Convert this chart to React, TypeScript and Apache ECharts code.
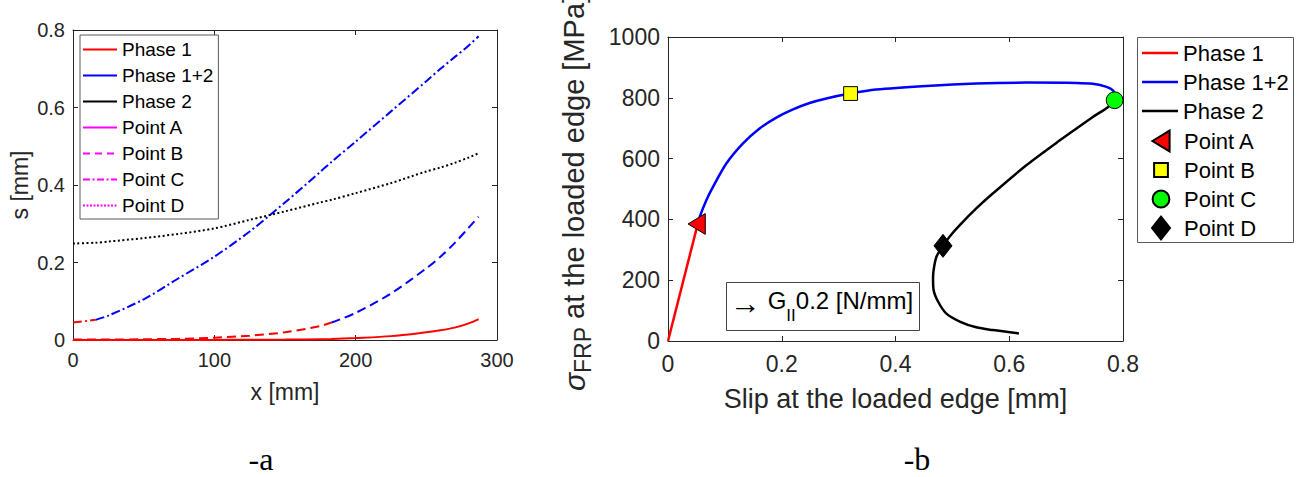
import React, { useEffect, useRef } from "react";
import * as echarts from "echarts";

// ---------- Left chart (a): slip along the bond length ----------
const xPos = [0, 16, 25, 50, 75, 100, 125, 150, 175, 183, 200, 225, 250, 260, 270, 280, 287];
const sPointA = [0, 0, 0, 0, 0, 0.0003, 0.0006, 0.001, 0.002, 0.0025, 0.005, 0.01, 0.02, 0.025, 0.032, 0.043, 0.054];
const sPointB = [0.001, 0.001, 0.001, 0.002, 0.003, 0.006, 0.011, 0.02, 0.036, 0.045, 0.07, 0.12, 0.185, 0.215, 0.25, 0.29, 0.318];
const sPointC = [0.045, 0.052, 0.063, 0.105, 0.16, 0.215, 0.28, 0.355, 0.434, 0.46, 0.512, 0.59, 0.668, 0.7, 0.73, 0.76, 0.784];
const sPointD = [0.249, 0.251, 0.254, 0.263, 0.274, 0.288, 0.31, 0.332, 0.355, 0.362, 0.379, 0.405, 0.435, 0.445, 0.457, 0.471, 0.482];
const splitB = 9; // index where Point B switches from Phase 1 to Phase 1+2
const splitC = 1; // index where Point C switches from Phase 1 to Phase 1+2

const leftLegend = ["Phase 1", "Phase 1+2", "Phase 2", "Point A", "Point B", "Point C", "Point D"];
const leftXTicks = { min: 0, max: 300, interval: 100 };
const leftYTicks = { min: 0, max: 0.8, interval: 0.2 };

// ---------- Right chart (b): stress vs slip at loaded edge ----------
const phase1Pts = [[0, 0], [0.052, 383]];
const phase12Pts = [
  [0.052, 383], [0.0557, 408], [0.0674, 463], [0.0791, 507], [0.1026, 584], [0.1319, 650],
  [0.161, 699], [0.1905, 735], [0.2198, 762], [0.249, 783], [0.2784, 798], [0.3206, 814],
  [0.366, 827], [0.454, 839], [0.542, 847], [0.63, 850], [0.718, 849], [0.747, 846],
  [0.771, 836], [0.783, 823], [0.7853, 800],
];
const phase2Pts = [
  [0.7853, 792], [0.774, 770], [0.747, 737], [0.689, 660], [0.63, 578], [0.571, 485],
  [0.542, 436], [0.513, 381], [0.495, 343], [0.4835, 313], [0.472, 277], [0.467, 233],
  [0.466, 206], [0.467, 168], [0.475, 129], [0.489, 91], [0.513, 64], [0.542, 45],
  [0.571, 36], [0.617, 25],
];
const pointA = [0.0504, 385];
const pointB = [0.321, 814];
const pointC = [0.7853, 792];
const pointD = [0.4835, 313];
const rightLineLegend = ["Phase 1", "Phase 1+2", "Phase 2"];
const rightPointLegend = ["Point A", "Point B", "Point C", "Point D"];
const rightXTicks = { min: 0, max: 0.8, interval: 0.2 };
const rightYTicks = { min: 0, max: 1000, interval: 200 };

const FONT = "'Liberation Sans', Arial, Helvetica, sans-serif";
const AX = "#262626";
const RED = "#ff0000";
const BLUE = "#0000ff";
const BLACK = "#000000";
const MAG = "#ff00ff";
const DASH = [9, 5];
const DASHDOT = [9, 3, 2, 3];
const DOT = [2, 2.5];

// marker paths padded into a 24x24 box so legend and plot share sizes
const TRI = "path://M0 0M24 24M3.4 12L20.6 1.6L20.6 22.4Z";
const SQR = "path://M0 0M24 24M5.1 5.1L18.9 5.1L18.9 18.9L5.1 18.9Z";
const CIR = "path://M0 0M24 24M3.6 12A8.4 8.4 0 1 1 20.4 12A8.4 8.4 0 1 1 3.6 12Z";
const DIA = "path://M0 0M24 24M12 0.5L21 12L12 23.5L3 12Z";

// legend line-sample icons built as thin filled bars (optionally dashed)
function barIcon(w: number, h: number, t: number, pattern: number[]) {
  const y0 = (h - t) / 2;
  const y1 = y0 + t;
  let d = `M0 0M${w} ${h}`;
  let x = 0;
  let i = 0;
  while (x < w - 0.01) {
    const len = pattern[i % pattern.length];
    if (i % 2 === 0) {
      const x1 = Math.min(w, x + len);
      d += `M${x} ${y0}L${x1} ${y0}L${x1} ${y1}L${x} ${y1}Z`;
    }
    x += len;
    i++;
  }
  return "path://" + d;
}

const pairs = (ys: number[]) => xPos.map((x, i) => [x, ys[i]]);

function axisPair(kind: "x" | "y", grid: number, t: any, fontSize: number, name: any, nameGap: number, nameStyle: any, margin: number) {
  const mainPos = kind === "x" ? "bottom" : "left";
  const sidePos = kind === "x" ? "top" : "right";
  const base = {
    type: "value",
    gridIndex: grid,
    min: t.min,
    max: t.max,
    interval: t.interval,
    splitLine: { show: false },
    axisLine: { show: true, onZero: false, lineStyle: { color: AX, width: 1 } },
    axisTick: { show: true, inside: true, length: 5, lineStyle: { color: AX } },
  };
  return [
    {
      ...base,
      position: mainPos,
      axisLabel: {
        show: true,
        fontSize,
        color: AX,
        fontFamily: FONT,
        margin,
        formatter: (v: number) => String(Math.round(v * 1000) / 1000),
      },
      name,
      nameLocation: "middle",
      nameGap,
      nameTextStyle: { color: AX, fontFamily: FONT, ...nameStyle },
    },
    { ...base, position: sidePos, axisLabel: { show: false } },
  ];
}

function leftLine(name: string, data: any, color: string, type: any) {
  return {
    name,
    type: "line",
    xAxisIndex: 0,
    yAxisIndex: 0,
    data,
    symbol: "none",
    showSymbol: false,
    smooth: 0.3,
    lineStyle: { color, width: 2, type },
    itemStyle: { color },
  };
}

function rightLine(name: string, data: any, color: string) {
  return {
    name,
    type: "line",
    xAxisIndex: 2,
    yAxisIndex: 2,
    data,
    symbol: "none",
    showSymbol: false,
    smooth: 0.3,
    lineStyle: { color, width: 2.5 },
    itemStyle: { color },
  };
}

function marker(name: string, pt: number[], symbol: string, fill: string) {
  return {
    name,
    type: "scatter",
    xAxisIndex: 2,
    yAxisIndex: 2,
    data: [pt],
    symbol,
    symbolSize: 24,
    itemStyle: { color: fill, borderColor: "#000", borderWidth: 1, opacity: 1 },
    z: 5,
  };
}

const leftDummyStyles: [string, any, number[]][] = [
  [RED, "solid", [34]],
  [BLUE, "solid", [34]],
  [BLACK, "solid", [34]],
  [MAG, "solid", [34]],
  [MAG, DASH, [7, 5]],
  [MAG, DASHDOT, [7, 2.5, 2, 2.5]],
  [MAG, DOT, [2, 1.5]],
];

function buildOption() {
  const xs = [
    ...axisPair("x", 0, leftXTicks, 20, "x [mm]", 40, { fontSize: 23 }, 10),
    ...axisPair("x", 1, rightXTicks, 23, "Slip at the loaded edge [mm]", 44, { fontSize: 27 }, 11),
  ];
  const ys = [
    ...axisPair("y", 0, leftYTicks, 20, "s [mm]", 42, { fontSize: 23 }, 8),
    ...axisPair("y", 1, rightYTicks, 23, "{s|σ}{f|FRP}{n| at the loaded edge [MPa]}", 62, {
      padding: [0, 8, 0, 0],
      rich: {
        s: { fontSize: 30, fontStyle: "italic", fontFamily: FONT, color: AX, lineHeight: 29, verticalAlign: "top" },
        f: { fontSize: 23, fontFamily: FONT, color: AX, lineHeight: 47, verticalAlign: "middle" },
        n: { fontSize: 29, fontFamily: FONT, color: AX, lineHeight: 29, verticalAlign: "top" },
      },
    }, 8),
  ];

  const series: any[] = [
    leftLine("", pairs(sPointA), RED, "solid"),
    leftLine("", pairs(sPointB).slice(0, splitB + 1), RED, DASH),
    leftLine("", pairs(sPointB).slice(splitB), BLUE, DASH),
    leftLine("", pairs(sPointC).slice(0, splitC + 1), RED, DASHDOT),
    leftLine("", pairs(sPointC).slice(splitC), BLUE, DASHDOT),
    leftLine("", pairs(sPointD), BLACK, DOT),
    ...leftLegend.map((n, i) => leftLine("a|" + n, [], leftDummyStyles[i][0], leftDummyStyles[i][1])),
    rightLine("b|" + rightLineLegend[0], phase1Pts, RED),
    rightLine("b|" + rightLineLegend[1], phase12Pts, BLUE),
    rightLine("b|" + rightLineLegend[2], phase2Pts, BLACK),
    marker("b|" + rightPointLegend[0], pointA, TRI, RED),
    marker("b|" + rightPointLegend[1], pointB, SQR, "#ffff00"),
    marker("b|" + rightPointLegend[2], pointC, CIR, "#00ff00"),
    marker("b|" + rightPointLegend[3], pointD, DIA, "#000000"),
  ];
  series.forEach((s, i) => {
    if (s.name === "") s.name = "hidden" + i;
  });

  const fmt = (n: string) => n.split("|")[1];
  const rightLineIcon = barIcon(36, 24, 2.5, [36]);
  const rightLineColors = [RED, BLUE, BLACK];
  const rightLegendBase = {
    orient: "vertical",
    selectedMode: false,
    itemWidth: 36,
    itemHeight: 24,
    padding: 0,
    textStyle: { fontSize: 22, color: "#000", fontFamily: FONT },
    formatter: fmt,
  };

  return {
    animation: false,
    backgroundColor: "#ffffff",
    textStyle: { fontFamily: FONT },
    tooltip: { show: false },
    grid: [
      { left: 73, top: 30, width: 424, height: 310, outerBoundsMode: "none" },
      { left: 668, top: 37, width: 455, height: 304, outerBoundsMode: "none" },
    ],
    xAxis: xs,
    yAxis: ys,
    legend: [
      {
        left: 80,
        top: 35,
        orient: "vertical",
        selectedMode: false,
        itemWidth: 34,
        itemHeight: 14,
        itemGap: 7,
        padding: [5, 5, 4, 3],
        borderColor: "#5a5a5a",
        borderWidth: 1,
        backgroundColor: "#ffffff",
        itemStyle: { borderWidth: 0 },
        textStyle: { fontSize: 19, color: "#000", fontFamily: FONT },
        formatter: fmt,
        data: leftLegend.map((n, i) => ({
          name: "a|" + n,
          icon: barIcon(34, 14, 2, leftDummyStyles[i][2]),
          itemStyle: { color: leftDummyStyles[i][0], borderWidth: 0 },
        })),
      },
      {
        ...rightLegendBase,
        left: 1142,
        top: 41,
        itemGap: 5,
        itemStyle: { borderWidth: 0 },
        data: rightLineLegend.map((n, i) => ({
          name: "b|" + n,
          icon: rightLineIcon,
          itemStyle: { color: rightLineColors[i], borderWidth: 0 },
        })),
      },
      {
        ...rightLegendBase,
        left: 1148,
        top: 128,
        itemGap: 3,
        data: rightPointLegend.map((n) => "b|" + n),
      },
    ],
    series,
    graphic: [
      {
        type: "rect",
        shape: { x: 1137.5, y: 37.5, width: 156, height: 205 },
        style: { fill: "none", stroke: "#5a5a5a", lineWidth: 1 },
        z: 1,
      },
      {
        type: "rect",
        shape: { x: 726.5, y: 282.5, width: 193, height: 48 },
        style: { fill: "#ffffff", stroke: "#444444", lineWidth: 1 },
        z: 10,
      },
      {
        type: "text",
        x: 730,
        y: 288,
        z: 11,
        style: {
          text: "{r|→}{a| G}{s|II}{a|0.2 [N/mm]}",
          align: "left",
          verticalAlign: "top",
          fontFamily: FONT,
          rich: {
            r: { fontSize: 31, fontFamily: FONT, fill: "#000", lineHeight: 24, verticalAlign: "top" },
            a: { fontSize: 24, fontFamily: FONT, fill: "#000", lineHeight: 24, verticalAlign: "top" },
            s: { fontSize: 17, fontFamily: FONT, fill: "#000", lineHeight: 54, verticalAlign: "middle" },
          },
        },
      },
      {
        type: "text",
        x: 261,
        y: 459,
        style: { text: "-a", fontFamily: "'Liberation Serif', 'DejaVu Serif', serif", fontSize: 32, fill: "#000", align: "center", verticalAlign: "middle" },
      },
      {
        type: "text",
        x: 917,
        y: 459,
        style: { text: "-b", fontFamily: "'Liberation Serif', 'DejaVu Serif', serif", fontSize: 32, fill: "#000", align: "center", verticalAlign: "middle" },
      },
    ],
  };
}

export default function App() {
  const ref = useRef<HTMLDivElement>(null);
  useEffect(() => {
    if (!ref.current) return;
    const chart = echarts.init(ref.current, null, { renderer: "svg" });
    chart.setOption(buildOption() as any);
    return () => chart.dispose();
  }, []);
  return (
    <div
      ref={ref}
      style={{ position: "absolute", left: 0, top: 0, width: 1302, height: 477, background: "#ffffff" }}
    />
  );
}
